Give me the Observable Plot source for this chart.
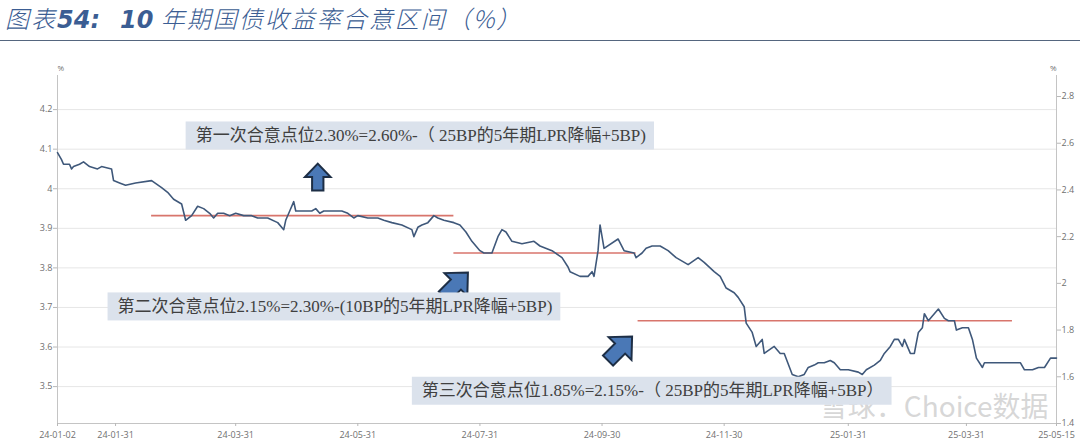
<!DOCTYPE html>
<html>
<head>
<meta charset="utf-8">
<script src="https://cdn.jsdelivr.net/npm/d3@7"></script>
<script src="https://cdn.jsdelivr.net/npm/@observablehq/plot@0.6"></script>
<style>
  html, body { margin: 0; padding: 0; background: #fff; }
  body { width: 1080px; height: 440px; overflow: hidden; position: relative; }
  #title {
    position: absolute; left: 0; top: 0; width: 1080px; height: 41px;
    border-bottom: 1.5px solid #55667f; box-sizing: border-box;
    padding-left: 5px; white-space: nowrap; color: #3b5d93;
    font-style: italic; line-height: 36px;
  }
  #title .cn { font-family: "Noto Sans CJK SC", sans-serif; font-size: 24px; font-weight: 300; letter-spacing: 2px; }
  #title .num { font-family: "DejaVu Sans", sans-serif; font-size: 24px; font-weight: bold; }
  #chart { position: absolute; left: 0; top: 45px; }
</style>
</head>
<body>
<div id="title"><span class="cn">图表</span><span class="num">54:</span><span class="num" style="margin-left:20px">10</span><span class="cn"> 年期国债收益率合意区间（%）</span></div>
<div id="chart"></div>
<script>
// ---- data ----
const dates = [
  "2024-01-02","2024-01-04","2024-01-05","2024-01-08","2024-01-09","2024-01-10","2024-01-13","2024-01-15","2024-01-18","2024-01-22",
  "2024-01-24","2024-01-29","2024-01-30","2024-02-02","2024-02-05","2024-02-10","2024-02-18","2024-02-23","2024-02-26","2024-02-29",
  "2024-03-04","2024-03-06","2024-03-09","2024-03-12","2024-03-15","2024-03-18","2024-03-20","2024-03-22","2024-03-25","2024-03-28",
  "2024-03-31","2024-04-04","2024-04-08","2024-04-11","2024-04-16","2024-04-21","2024-04-24","2024-04-25","2024-04-27","2024-04-29",
  "2024-04-30","2024-05-03","2024-05-08","2024-05-10","2024-05-12","2024-05-14","2024-05-19","2024-05-23","2024-05-26","2024-05-29",
  "2024-05-31","2024-06-05","2024-06-10","2024-06-13","2024-06-17","2024-06-22","2024-06-27","2024-06-28","2024-06-30","2024-07-02",
  "2024-07-05","2024-07-08","2024-07-10","2024-07-13","2024-07-18","2024-07-21","2024-07-24","2024-07-27","2024-07-31","2024-08-02",
  "2024-08-06","2024-08-09","2024-08-11","2024-08-13","2024-08-16","2024-08-21","2024-08-27","2024-08-30","2024-09-05","2024-09-10",
  "2024-09-13","2024-09-14","2024-09-19","2024-09-23","2024-09-25","2024-09-26","2024-09-28","2024-09-29","2024-10-01","2024-10-08",
  "2024-10-11","2024-10-16","2024-10-17","2024-10-20","2024-10-22","2024-10-25","2024-10-29","2024-11-02","2024-11-06","2024-11-12",
  "2024-11-17","2024-11-20","2024-11-25","2024-11-28","2024-12-01","2024-12-05","2024-12-07","2024-12-10","2024-12-11","2024-12-14",
  "2024-12-16","2024-12-19","2024-12-20","2024-12-25","2024-12-28","2024-12-30","2025-01-03","2025-01-06","2025-01-09","2025-01-11",
  "2025-01-14","2025-01-16","2025-01-19","2025-01-22","2025-01-24","2025-01-27","2025-01-31","2025-02-05","2025-02-07","2025-02-09",
  "2025-02-13","2025-02-16","2025-02-18","2025-02-21","2025-02-23","2025-02-25","2025-02-27","2025-02-28","2025-03-03","2025-03-05",
  "2025-03-07","2025-03-09","2025-03-10","2025-03-12","2025-03-14","2025-03-17","2025-03-20","2025-03-22","2025-03-25","2025-03-26",
  "2025-03-29","2025-04-01","2025-04-03","2025-04-05","2025-04-08","2025-04-09","2025-04-11","2025-04-14","2025-04-18","2025-04-22",
  "2025-04-24","2025-04-27","2025-04-29","2025-05-03","2025-05-06","2025-05-09","2025-05-12","2025-05-14","2025-05-15"
];
const yields = [
  2.56,2.53,2.51,2.51,2.49,2.50,2.51,2.52,2.50,2.49,
  2.50,2.49,2.44,2.43,2.42,2.43,2.44,2.41,2.39,2.36,
  2.34,2.27,2.29,2.33,2.32,2.30,2.28,2.30,2.30,2.29,
  2.30,2.29,2.29,2.28,2.28,2.26,2.23,2.27,2.31,2.35,
  2.31,2.31,2.31,2.32,2.30,2.31,2.31,2.31,2.30,2.28,
  2.29,2.28,2.28,2.27,2.26,2.25,2.23,2.20,2.24,2.25,
  2.26,2.29,2.28,2.27,2.26,2.25,2.22,2.18,2.14,2.13,
  2.13,2.20,2.23,2.22,2.18,2.17,2.18,2.16,2.14,2.11,
  2.07,2.05,2.03,2.03,2.05,2.03,2.14,2.25,2.15,2.19,
  2.14,2.13,2.11,2.13,2.15,2.16,2.16,2.14,2.11,2.08,
  2.11,2.09,2.05,2.03,1.98,1.96,1.94,1.90,1.83,1.79,
  1.73,1.76,1.70,1.73,1.70,1.70,1.61,1.60,1.61,1.64,
  1.65,1.66,1.66,1.67,1.66,1.63,1.63,1.62,1.61,1.63,
  1.65,1.67,1.70,1.73,1.76,1.76,1.73,1.76,1.70,1.70,
  1.79,1.81,1.87,1.84,1.86,1.89,1.85,1.84,1.84,1.80,
  1.81,1.81,1.76,1.68,1.64,1.66,1.66,1.66,1.66,1.66,
  1.66,1.66,1.63,1.63,1.64,1.64,1.68,1.68,1.68
];
const xTickLabels = ["2024-01-02","2024-01-31","2024-03-31","2024-05-31","2024-07-31","2024-09-30","2024-11-30","2025-01-31","2025-03-31","2025-05-15"];
const rightTicks = [1.4,1.6,1.8,2.0,2.2,2.4,2.6,2.8];
const leftTicks = [3.5,3.6,3.7,3.8,3.9,4.0,4.1,4.2];

// consensus bands (red lines)
const bandStart = ["2024-02-18","2024-07-18","2024-10-18"];
const bandEnd   = ["2024-07-18","2024-10-17","2025-04-23"];
const bandLevel = [2.29, 2.13, 1.84];

// annotations
const noteText = [
  "第一次合意点位2.30%=2.60%-（ 25BP的5年期LPR降幅+5BP)",
  "第二次合意点位2.15%=2.30%-(10BP的5年期LPR降幅+5BP)",
  "第三次合意点位1.85%=2.15%-（ 25BP的5年期LPR降幅+5BP）"
];
const noteDate  = ["2024-03-11","2024-02-01","2024-07-02"];
const noteValue = [2.633, 1.901, 1.540];

const arrowDate  = ["2024-05-11","2024-07-19","2024-10-09"];
const arrowValue = [2.455, 1.995, 1.721];
const arrowDir   = ["up","ne","ne"];

const watermark = "雪球：Choice数据";

// ---- build ----
const parse = d3.utcParse("%Y-%m-%d");
const rows = dates.map((d, i) => ({date: parse(d), value: yields[i]}));
const bands = bandLevel.map((v, i) => ({x1: parse(bandStart[i]), x2: parse(bandEnd[i]), y: v}));
const notes = noteText.map((t, i) => ({text: t, date: parse(noteDate[i]), value: noteValue[i]}));
const arrows = arrowDate.map((d, i) => ({date: parse(d), value: arrowValue[i], dir: arrowDir[i]}));
const xDomain = [parse(xTickLabels[0]), parse(xTickLabels[xTickLabels.length - 1])];

// secondary (left) axis mapped onto the yield scale
const left2right = d3.scaleLinear().domain([3.5, 4.2]).range([1.558, 2.744]);
const fmt = d3.format("~g");

function blockArrow(angleDeg) {
  const a = angleDeg * Math.PI / 180, c = Math.cos(a), s = Math.sin(a);
  const P = [[0,-1],[0.95,0],[0.42,0],[0.42,1],[-0.42,1],[-0.42,0],[-0.95,0]]
    .map(([x, y]) => [x * c - y * s, x * s + y * c]);
  return {draw(ctx, size) {
    const r = Math.sqrt(size / Math.PI);
    P.forEach(([x, y], i) => i ? ctx.lineTo(x * r, y * r) : ctx.moveTo(x * r, y * r));
    ctx.closePath();
  }};
}

const axisStyle = {fill: "#707070", stroke: "#b8b8b8", fontSize: 9, label: null};

const chart = Plot.plot({
  width: 1080,
  height: 395,
  marginTop: 30,
  marginBottom: 17,
  marginLeft: 57,
  marginRight: 24,
  style: {fontFamily: "'Open Sans', 'Noto Sans', sans-serif", fontSize: "9px", background: "#fff", overflow: "visible"},
  x: {type: "utc", domain: xDomain},
  y: {domain: [1.4, 2.89]},
  marks: [
    Plot.gridY({ticks: leftTicks.map(left2right), stroke: "#e6e6e6", strokeOpacity: 1}),
    Plot.text([watermark], {frameAnchor: "bottom-right", textAnchor: "end", lineAnchor: "middle",
      dx: -8, dy: -15, fontSize: 28, fill: "#d2d2d2", fillOpacity: 0.9,
      fontFamily: "'Noto Sans CJK SC', 'Noto Sans', sans-serif"}),
    Plot.ruleX(xDomain, {stroke: "#c4c4c4"}),
    Plot.ruleY([1.4], {stroke: "#c4c4c4"}),
    Plot.axisY({...axisStyle, anchor: "left", ticks: leftTicks.map(left2right),
      tickFormat: d => fmt(Math.round(left2right.invert(d) * 10) / 10), tickSize: 4, tickPadding: 1}),
    Plot.axisY({...axisStyle, anchor: "right", ticks: rightTicks, tickFormat: fmt, tickSize: 4, tickPadding: 1}),
    Plot.axisX({...axisStyle, ticks: xTickLabels.map(parse), tickFormat: d3.utcFormat("%y-%m-%d"), tickSize: 3, tickPadding: 5}),
    Plot.text(["%"], {frameAnchor: "top-left", dy: -10, fill: "#707070", fontSize: 8}),
    Plot.text(["%"], {frameAnchor: "top-right", dy: -10, fill: "#707070", fontSize: 8}),
    Plot.ruleY(bands, {x1: "x1", x2: "x2", y: "y", stroke: "#d8756c", strokeWidth: 1.6}),
    Plot.line(rows, {x: "date", y: "value", stroke: "#3f587a", strokeWidth: 1.6}),
    Plot.dot(arrows.filter(d => d.dir === "up"), {x: "date", y: "value", r: 13.5, symbol: blockArrow(0),
      fill: "#4a78b6", stroke: "#1d2e45", strokeWidth: 2}),
    Plot.dot(arrows.filter(d => d.dir === "ne"), {x: "date", y: "value", r: 17, symbol: blockArrow(45),
      fill: "#4a78b6", stroke: "#1d2e45", strokeWidth: 2}),
    Plot.text(notes, {x: "date", y: "value", text: "text", textAnchor: "start", lineAnchor: "middle",
      fill: "#404040", fontSize: 17, fontFamily: "'Liberation Serif', 'Noto Sans CJK SC', serif"})
  ]
});
document.getElementById("chart").append(chart);

// boxes behind annotation text
chart.querySelectorAll("text").forEach(t => {
  if (!noteText.includes(t.textContent)) return;
  const b = t.getBBox();
  const r = document.createElementNS("http://www.w3.org/2000/svg", "rect");
  r.setAttribute("x", b.x - 10);
  r.setAttribute("y", b.y + b.height / 2 - 14);
  r.setAttribute("width", b.width + 18);
  r.setAttribute("height", 28);
  r.setAttribute("fill", "#dbe2ec");
  const tr = t.getAttribute("transform");
  if (tr) r.setAttribute("transform", tr);
  t.parentNode.insertBefore(r, t);
});
</script>
</body>
</html>
